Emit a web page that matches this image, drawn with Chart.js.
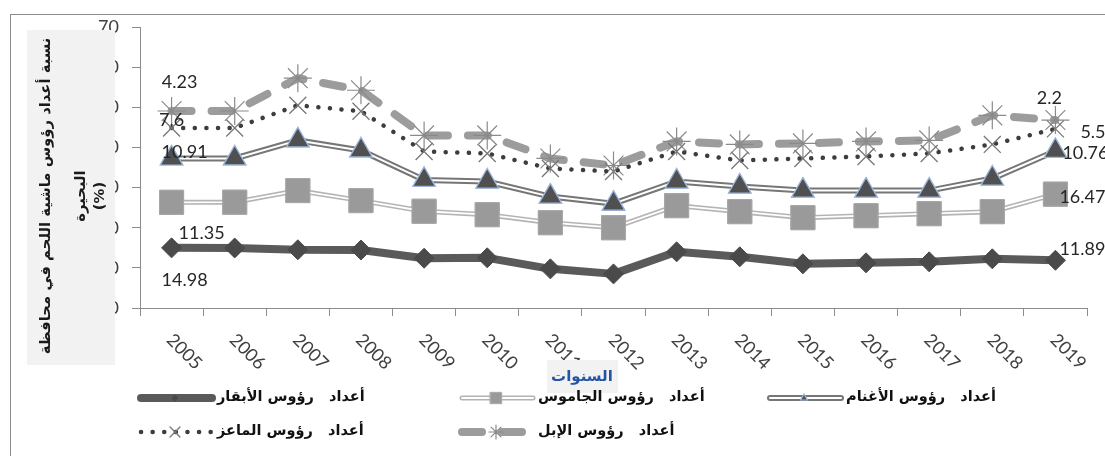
<!DOCTYPE html>
<html>
<head>
<meta charset="utf-8">
<script src="https://cdn.jsdelivr.net/npm/chart.js@4.4.0/dist/chart.umd.min.js"></script>
<style>
    html, body { margin: 0; padding: 0; background: #fff; }
    #wrap { position: relative; width: 1105px; height: 456px; overflow: hidden; }
    #frame { position: absolute; left: 10px; top: 14px; width: 1200px; height: 600px; border: 1px solid #8c8c8c; box-sizing: border-box; }
    canvas { position: absolute; left: 0; top: 0; }
</style>
</head>
<body>
<div id="wrap">
    <div id="frame"></div>
    <canvas id="chart" width="1105" height="456"></canvas>
</div>
<script>
// categories and series (stacked shares, %)
const years = ['2005', '2006', '2007', '2008', '2009', '2010', '2011', '2012', '2013', '2014', '2015', '2016', '2017', '2018', '2019'];
const cattle = [14.98, 14.95, 14.5, 14.45, 12.4, 12.5, 9.75, 8.5, 14.0, 12.75, 11.0, 11.25, 11.5, 12.25, 11.89];
const buffalo = [11.35, 11.4, 14.75, 12.3, 11.7, 10.75, 11.5, 11.5, 11.5, 11.25, 11.5, 11.75, 12.0, 11.75, 16.47];
const sheep = [10.91, 10.9, 12.5, 12.5, 7.8, 8.25, 6.5, 6.0, 6.0, 6.25, 6.75, 6.25, 5.75, 8.25, 10.76];
const goats = [7.6, 7.6, 8.75, 9.75, 7.1, 7.0, 7.0, 8.0, 7.5, 6.5, 8.0, 8.5, 9.25, 8.5, 5.5];
const camels = [4.23, 4.23, 6.75, 5.25, 4.0, 4.5, 2.5, 1.5, 2.5, 4.0, 3.75, 3.75, 3.25, 7.25, 2.2];
const seriesNames = ['أعداد   رؤوس الأبقار', 'أعداد   رؤوس الجاموس', 'أعداد   رؤوس الأغنام', 'أعداد   رؤوس الماعز', 'أعداد   رؤوس الإبل'];
const yTicks = [0, 10, 20, 30, 40, 50, 60, 70];
const yTitleLines = ['نسبة أعداد رؤوس ماشية اللحم في محافظة', 'البحيرة', '(%)'];
const xTitle = 'السنوات';

const numFont = '18px Lato';
const arFont = 'bold 14.5px "DejaVu Sans"';

// label offsets for first / last point of each series
const labelPos = [
    { first: [13, 32, 'center'], last: [4, -11, 'left'] },
    { first: [30, 31, 'center'], last: [4, 3, 'left'] },
    { first: [13, -6, 'center'], last: [7, 2, 'left'] },
    { first: [0, -8, 'center'], last: [25, 3, 'left'] },
    { first: [8, -29, 'center'], last: [-6, -22, 'center'] }
];

const datasets = [
    {
        label: seriesNames[0], data: cattle,
        borderColor: '#5a5a5a', borderWidth: 8, borderJoinStyle: 'round',
        pointStyle: 'rectRot', pointRadius: 10, pointBackgroundColor: '#4a4a4a', pointBorderColor: '#4a4a4a', pointBorderWidth: 1,
        legendRadius: 3
    },
    {
        label: seriesNames[1], data: buffalo,
        borderColor: '#b4b4b4', borderWidth: 5, innerWidth: 1.8,
        pointStyle: 'rect', pointRadius: 17, pointBackgroundColor: '#9a9a9a', pointBorderColor: '#a8a8a8', pointBorderWidth: 1,
        legendRadius: 8
    },
    {
        label: seriesNames[2], data: sheep,
        borderColor: '#767676', borderWidth: 6, innerWidth: 2,
        pointStyle: 'triangle', pointRadius: 13, pointBackgroundColor: '#505050', pointBorderColor: '#9db8dc', pointBorderWidth: 1.2,
        legendRadius: 4
    },
    {
        label: seriesNames[3], data: goats,
        borderColor: '#3d3d3d', borderWidth: 4.5, borderDash: [0.1, 11.5], borderCapStyle: 'round',
        pointStyle: 'crossRot', pointRadius: 12, pointBackgroundColor: '#777', pointBorderColor: '#777', pointBorderWidth: 1.3,
        legendRadius: 7
    },
    {
        label: seriesNames[4], data: camels,
        borderColor: '#9c9c9c', borderWidth: 8, borderDash: [20, 20], borderCapStyle: 'round',
        pointStyle: 'star', pointRadius: 14, pointBackgroundColor: '#8a8a8a', pointBorderColor: '#8a8a8a', pointBorderWidth: 1.2,
        legendRadius: 7
    }
];
datasets.forEach(d => { d.fill = false; d.tension = 0; d.pointHoverRadius = d.pointRadius; });

// second, white stroke for the "double" lines, then points again on top
const doubleLine = {
    id: 'doubleLine',
    afterDatasetDraw(chart, args) {
        const ds = chart.data.datasets[args.index];
        if (!ds.innerWidth) return;
        const ctx = chart.ctx;
        const pts = args.meta.data;
        ctx.save();
        ctx.strokeStyle = '#ffffff';
        ctx.lineWidth = ds.innerWidth;
        ctx.lineJoin = 'round';
        ctx.beginPath();
        pts.forEach((p, i) => i ? ctx.lineTo(p.x, p.y) : ctx.moveTo(p.x, p.y));
        ctx.stroke();
        ctx.restore();
        pts.forEach(p => p.draw(ctx, chart.chartArea));
    }
};

const extras = {
    id: 'extras',
    afterDraw(chart) {
        const ctx = chart.ctx;
        const xs = chart.scales.x;

        // rotated year labels
        ctx.save();
        ctx.font = numFont;
        ctx.fillStyle = '#404040';
        ctx.textAlign = 'left';
        ctx.textBaseline = 'middle';
        years.forEach((y, i) => {
            ctx.save();
            ctx.translate(xs.getPixelForValue(i) - 2, 337);
            ctx.rotate(Math.PI / 4);
            ctx.fillText(y, 0, 0);
            ctx.restore();
        });
        ctx.restore();

        // value labels at first and last point
        ctx.save();
        ctx.font = numFont;
        ctx.fillStyle = '#262626';
        ctx.textBaseline = 'middle';
        chart.data.datasets.forEach((ds, di) => {
            const pts = chart.getDatasetMeta(di).data;
            const ends = [['first', 0], ['last', pts.length - 1]];
            ends.forEach(([k, idx]) => {
                const [dx, dy, al] = labelPos[di][k];
                ctx.textAlign = al;
                ctx.fillText(String(ds.data[idx]), pts[idx].x + dx, pts[idx].y + dy);
            });
        });
        ctx.restore();

        // y axis title box (covers the tick numbers like the original)
        ctx.save();
        ctx.fillStyle = '#f2f2f2';
        ctx.fillRect(27, 30, 88, 335);
        ctx.translate(71, 196);
        ctx.rotate(-Math.PI / 2);
        ctx.fillStyle = '#1a1a1a';
        ctx.font = 'bold 14.8px "DejaVu Sans"';
        ctx.textAlign = 'center';
        ctx.textBaseline = 'middle';
        const offs = [-25, 10, 29];
        yTitleLines.forEach((t, i) => ctx.fillText(t, 0, offs[i]));
        ctx.restore();

        // x axis title
        ctx.save();
        ctx.fillStyle = '#f2f2f2';
        ctx.fillRect(547, 360, 71, 33);
        ctx.fillStyle = '#2454a4';
        ctx.font = 'bold 15px "DejaVu Sans"';
        ctx.textAlign = 'center';
        ctx.textBaseline = 'middle';
        ctx.fillText(xTitle, 582, 377);
        ctx.restore();

        // legend
        const cols = [138, 459, 767];
        const rows = [398, 432];
        chart.data.datasets.forEach((ds, i) => {
            const x0 = cols[i < 3 ? i : i - 3];
            const y0 = rows[i < 3 ? 0 : 1];
            const x1 = x0 + 74;
            ctx.save();
            ctx.strokeStyle = ds.borderColor;
            ctx.lineWidth = ds.borderWidth;
            ctx.lineCap = ds.borderCapStyle || 'round';
            ctx.setLineDash(ds.borderDash || []);
            ctx.beginPath();
            ctx.moveTo(x0 + 3, y0);
            ctx.lineTo(x1, y0);
            ctx.stroke();
            if (ds.innerWidth) {
                ctx.strokeStyle = '#fff';
                ctx.lineWidth = ds.innerWidth;
                ctx.beginPath();
                ctx.moveTo(x0 + 3, y0);
                ctx.lineTo(x1, y0);
                ctx.stroke();
            }
            ctx.setLineDash([]);
            ctx.fillStyle = ds.pointBackgroundColor;
            ctx.strokeStyle = ds.pointBorderColor;
            ctx.lineWidth = ds.pointBorderWidth;
            Chart.helpers.drawPoint(ctx, { pointStyle: ds.pointStyle, radius: ds.legendRadius, rotation: 0, borderWidth: ds.pointBorderWidth }, (x0 + x1) / 2, y0);
            ctx.fillStyle = '#111';
            ctx.font = arFont;
            ctx.textAlign = 'left';
            ctx.textBaseline = 'middle';
            ctx.fillText(ds.label, x1 + 5, y0 - 1);
            ctx.restore();
        });
    }
};

const ctx = document.getElementById('chart').getContext('2d');
new Chart(ctx, {
    type: 'line',
    data: { labels: years, datasets: datasets },
    options: {
        responsive: false,
        animation: false,
        devicePixelRatio: 1,
        layout: { padding: { top: 27, right: 18, left: 0, bottom: 0 } },
        plugins: { legend: { display: false }, tooltip: { enabled: false } },
        scales: {
            x: {
                offset: true,
                grid: { offset: true, drawOnChartArea: false, tickLength: 8, color: '#8c8c8c' },
                border: { color: '#8c8c8c' },
                ticks: { display: false },
                afterFit: s => { s.height = 148; }
            },
            y: {
                stacked: true,
                min: 0, max: 70,
                afterBuildTicks: s => { s.ticks = yTicks.map(v => ({ value: v })); },
                grid: { drawOnChartArea: false, tickLength: 8, color: '#8c8c8c' },
                border: { color: '#8c8c8c' },
                ticks: { font: { family: 'Lato', size: 18 }, color: '#404040', padding: 13 },
                afterFit: s => { s.width = 140; }
            }
        }
    },
    plugins: [doubleLine, extras]
});
</script>
</body>
</html>
